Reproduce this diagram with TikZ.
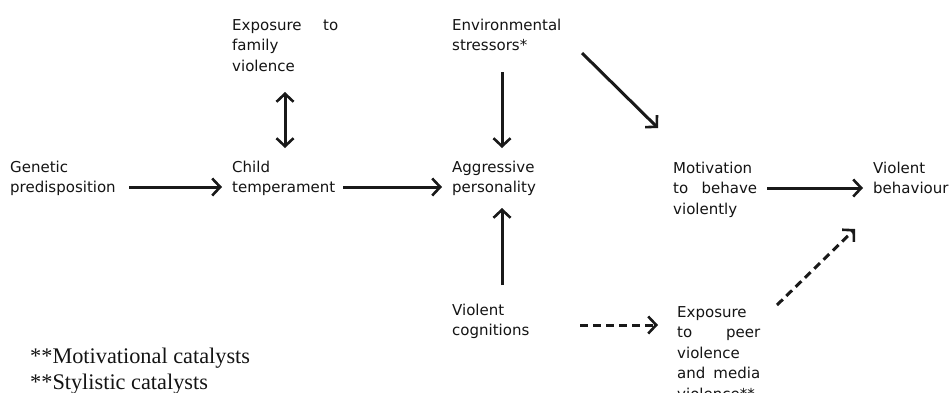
\documentclass[tikz,border=0pt]{standalone}
\usepackage{fontspec}
\setmainfont{DejaVu Sans}
\newfontfamily\fnserif{Liberation Serif}
\usetikzlibrary{arrows.meta}
\newcommand{\topstrut}{\rule{0pt}{12pt}}
\begin{document}
\begin{tikzpicture}[x=1pt,y=-1pt,
  lbl/.style={inner sep=0pt, anchor=north west, align=left, text=black!92,
    font=\fontsize{15}{20.5}\selectfont},
  foot/.style={inner sep=0pt, anchor=base west, text=black!92,
    font=\fnserif\fontsize{22.3}{26}\selectfont},
  arr/.style={line width=3pt, draw=black!90, -{Straight Barb[length=8pt,width=17pt,line width=2.6pt]}},
  darr/.style={arr, dash pattern=on 8pt off 5pt},
  dbl/.style={line width=3pt, draw=black!90, {Straight Barb[length=8pt,width=17pt,line width=2.6pt]}-{Straight Barb[length=8pt,width=17pt,line width=2.6pt]}}
]
\useasboundingbox[fill=white] (0,0) rectangle (951,392);

% text nodes (y = baseline of first line - 12)
\node[lbl] (gen) at (10,160) {\topstrut Genetic\\predisposition};
\node[lbl] (child) at (232,160) {\topstrut Child\\temperament};
\node[lbl] (aggr) at (452,160) {\topstrut Aggressive\\personality};
\node[lbl] (fam) at (232,18) {\topstrut\hbox to 106pt{Exposure\hfill to}\\family\\violence};
\node[lbl] (env) at (452,18) {\topstrut Environmental\\stressors*};
\node[lbl] (mot) at (673,161) {\topstrut Motivation\\\hbox to 84pt{to\hfill behave}\\violently};
\node[lbl] (viol) at (873,161) {\topstrut Violent\\behaviour};
\node[lbl] (cog) at (452,303) {\topstrut Violent\\cognitions};
\node[lbl] (peer) at (677,305) {\topstrut Exposure\\\hbox to 83pt{to\hfill peer}\\violence\\\hbox to 83pt{and\hfill media}\\violence**};
\node[foot] (f1) at (30,363) {**Motivational catalysts};
\node[foot] (f2) at (30,389) {**Stylistic catalysts};

% connector end points
\coordinate (genE) at (129,187);  \coordinate (childW) at (222,187);
\coordinate (childE) at (343,187); \coordinate (aggrW) at (442,187);
\coordinate (famS) at (285,92);    \coordinate (childN) at (285,148);
\coordinate (envS) at (502,72);    \coordinate (aggrN) at (502,148);
\coordinate (cogN) at (502,285);   \coordinate (aggrS) at (502,208);
\coordinate (envE) at (582,53);    \coordinate (motNW) at (658,128);
\coordinate (motE) at (767,188);   \coordinate (violW) at (863,188);
\coordinate (cogE) at (580,325);   \coordinate (peerW) at (658,325);
\coordinate (peerNE) at (777,305); \coordinate (violSW) at (855,229);

\draw[arr] (genE) -- (childW);
\draw[arr] (childE) -- (aggrW);
\draw[dbl] (famS) -- (childN);
\draw[arr] (envS) -- (aggrN);
\draw[arr] (cogN) -- (aggrS);
\draw[arr] (envE) -- (motNW);
\draw[arr] (motE) -- (violW);
\draw[darr] (cogE) -- (peerW);
\draw[darr] (peerNE) -- (violSW);
\end{tikzpicture}
\end{document}
